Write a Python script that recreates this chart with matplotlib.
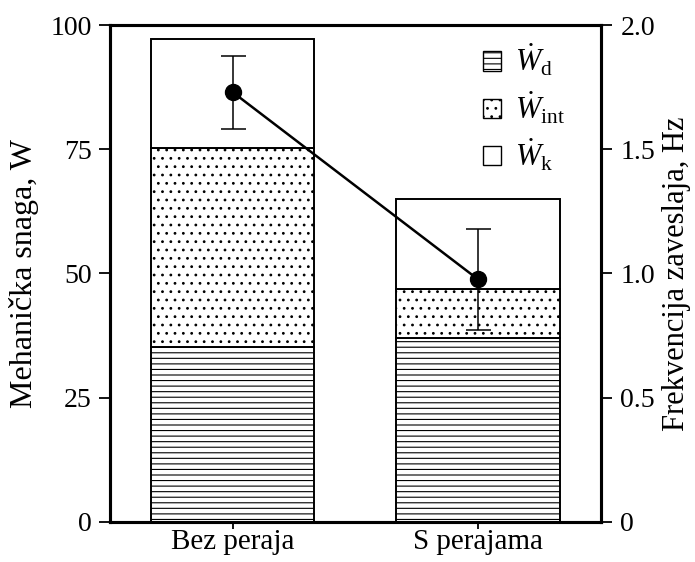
import matplotlib
matplotlib.use('Agg')
from matplotlib import pyplot as plt
from matplotlib.patches import Patch

plt.rcParams['font.family'] = ['Liberation Serif', 'DejaVu Serif']
plt.rcParams['mathtext.fontset'] = 'custom'
plt.rcParams['mathtext.rm'] = 'Liberation Serif'
plt.rcParams['mathtext.it'] = 'Liberation Serif:italic'
plt.rcParams['hatch.linewidth'] = 0.8
plt.rcParams['hatch.color'] = '#444444'

# podaci
categories = ['Bez peraja', 'S perajama']
w_d = [35.3, 37.0]
w_int = [39.9, 9.8]
w_k = [22.0, 18.2]
freq = [1.73, 0.976]
freq_err = [0.147, 0.204]

fig = plt.figure(figsize=(6.95, 5.62), dpi=100)
ax = fig.add_axes([0.158, 0.0712, 0.7067, 0.8843])
x = [0, 1]
width = 0.667

bottom2 = [a + b for a, b in zip(w_d, w_int)]
ax.bar(x, w_d, width, color='white', edgecolor='black', hatch='---', linewidth=1.4)
ax.bar(x, w_int, width, bottom=w_d, color='white', edgecolor='black', hatch='..', linewidth=1.4)
ax.bar(x, w_k, width, bottom=bottom2, color='white', edgecolor='black', linewidth=1.4)

ax.set_xlim(-0.5, 1.5)
ax.set_ylim(0, 100)
ax.set_yticks([0, 25, 50, 75, 100])
ax.set_xticks(x)
ax.set_xticklabels(categories, fontsize=21)
ax.set_ylabel('Mehanička snaga, W', fontsize=23, labelpad=8)
ax.tick_params(axis='y', direction='out', labelsize=20, width=1.3, length=8, pad=5)
ax.tick_params(axis='x', direction='out', width=1.3, length=5, pad=0)
for s in ax.spines.values():
    s.set_linewidth(2.2)

ax2 = ax.twinx()
ax2.errorbar(x, freq, yerr=freq_err, color='black', linewidth=1.8, marker='o',
             markersize=11.5, capsize=9, elinewidth=1.1, capthick=1.1)
ax2.set_ylim(0, 2.0)
ax2.set_yticks([0, 0.5, 1.0, 1.5, 2.0])
ax2.set_yticklabels(['0', '0.5', '1.0', '1.5', '2.0'])
ax2.set_ylabel('Frekvencija zaveslaja, Hz', fontsize=22, labelpad=5)
ax2.tick_params(axis='y', direction='out', labelsize=20, width=1.3, length=8, pad=6)
for s in ax2.spines.values():
    s.set_linewidth(2.2)

handles = [Patch(facecolor='white', edgecolor='black', hatch='---'),
           Patch(facecolor='white', edgecolor='black', hatch='..'),
           Patch(facecolor='white', edgecolor='black')]
labels = [r'$\dot{W}_\mathrm{d}$', r'$\dot{W}_\mathrm{int}$', r'$\dot{W}_\mathrm{k}$']
ax.legend(handles, labels, loc='upper left', frameon=False, fontsize=22,
          handlelength=0.6, handleheight=0.6, handletextpad=0.45,
          labelspacing=0.36, borderpad=0, borderaxespad=0,
          bbox_to_anchor=(0.76, 0.965))

fig.savefig('out.png', dpi=100)
